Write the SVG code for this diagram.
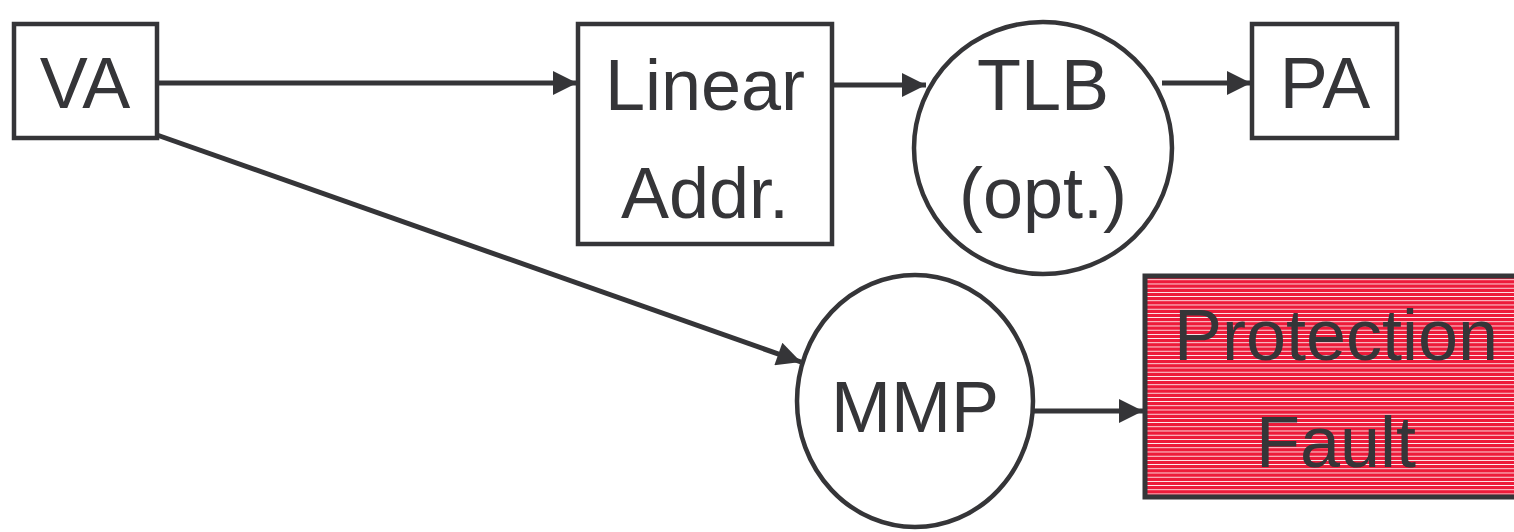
<svg xmlns="http://www.w3.org/2000/svg" width="1514" height="532" viewBox="0 0 1514 532">
  <defs>
    <marker id="arrow" viewBox="0 0 10 10" refX="10" refY="5" markerWidth="5.4" markerHeight="4.8" markerUnits="strokeWidth" orient="auto">
      <path d="M0,0 L10,5 L0,10 z" fill="#353538"/>
    </marker>
    <pattern id="stripes" width="8" height="4.2" patternUnits="userSpaceOnUse" y="276">
      <rect width="8" height="4.2" fill="#ED1B3A" shape-rendering="crispEdges"/>
      <rect y="3.1" width="8" height="1.1" fill="#ffffff" shape-rendering="crispEdges"/>
    </pattern>
    <style>
      .shape { fill: #ffffff; stroke: #353538; stroke-width: 4.5; }
      .label { font-family: "Liberation Sans", Arial, sans-serif; font-size: 72px; fill: #353538; text-anchor: middle; }
      .edge { fill: none; stroke: #353538; stroke-width: 5; marker-end: url(#arrow); }
    </style>
  </defs>
  <rect width="1514" height="532" fill="#ffffff"/>

  <g id="connectors">
    <line class="edge" x1="157" y1="83" x2="577" y2="83"/>
    <line class="edge" x1="832" y1="85" x2="926" y2="85"/>
    <line class="edge" x1="1162" y1="83" x2="1251" y2="83"/>
    <line class="edge" x1="157" y1="135" x2="801" y2="362"/>
    <line class="edge" x1="1033" y1="411" x2="1143" y2="411"/>
  </g>

  <g id="va">
    <rect class="shape" x="14" y="24" width="143" height="114"/>
    <text class="label" x="85" y="108">VA</text>
  </g>

  <g id="linear-addr">
    <rect class="shape" x="578" y="24" width="254" height="220"/>
    <text class="label" x="705" y="110">Linear</text>
    <text class="label" x="705" y="218">Addr.</text>
  </g>

  <g id="tlb">
    <ellipse class="shape" cx="1043" cy="148" rx="129" ry="126"/>
    <text class="label" x="1043" y="110">TLB</text>
    <text class="label" x="1043" y="218">(opt.)</text>
  </g>

  <g id="pa">
    <rect class="shape" x="1252" y="24" width="145" height="114"/>
    <text class="label" x="1325" y="108">PA</text>
  </g>

  <g id="mmp">
    <ellipse class="shape" cx="915" cy="401" rx="118" ry="126"/>
    <text class="label" x="915" y="432">MMP</text>
  </g>

  <g id="protection-fault">
    <rect x="1145" y="276" width="380" height="221" fill="url(#stripes)" stroke="#353538" stroke-width="5"/>
    <text class="label" x="1336" y="360">Protection</text>
    <text class="label" x="1336" y="467">Fault</text>
  </g>
</svg>
